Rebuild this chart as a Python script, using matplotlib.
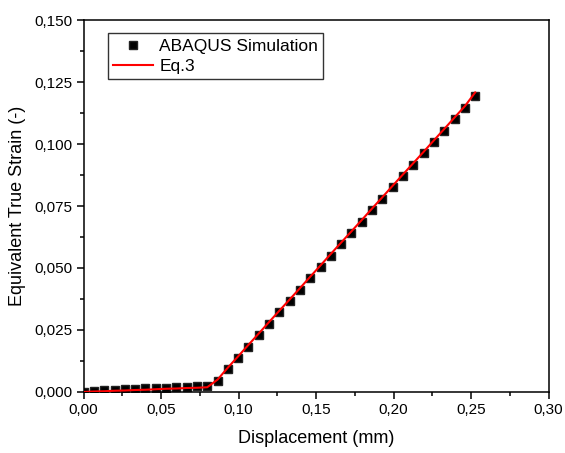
import matplotlib
matplotlib.use("Agg")
import matplotlib.pyplot as plt
from matplotlib.ticker import MultipleLocator, FuncFormatter

plt.rcParams['font.family'] = ['Liberation Sans', 'DejaVu Sans']

# displacement (mm) of each simulation increment
disp = [0.0000, 0.0067, 0.0133, 0.0200, 0.0266, 0.0333, 0.0399, 0.0466,
        0.0532, 0.0599, 0.0665, 0.0732, 0.0798, 0.0865, 0.0931, 0.0998,
        0.1064, 0.1131, 0.1197, 0.1264, 0.1330, 0.1397, 0.1463, 0.1530,
        0.1596, 0.1663, 0.1729, 0.1796, 0.1862, 0.1929, 0.1995, 0.2062,
        0.2128, 0.2195, 0.2261, 0.2328, 0.2394, 0.2461, 0.2527]

# equivalent true strain from ABAQUS
strain_sim = [0.0000, 0.0004, 0.0007, 0.0009, 0.0011, 0.0013, 0.0015, 0.0017,
              0.0018, 0.0020, 0.0022, 0.0023, 0.0025, 0.0046, 0.0091, 0.0137,
              0.0183, 0.0229, 0.0275, 0.0321, 0.0366, 0.0412, 0.0458, 0.0504,
              0.0550, 0.0596, 0.0641, 0.0687, 0.0733, 0.0779, 0.0825, 0.0871,
              0.0916, 0.0962, 0.1008, 0.1054, 0.1100, 0.1146, 0.1192]

# equivalent true strain from Eq.3
strain_eq = [0.0000, 0.0002, 0.0003, 0.0005, 0.0006, 0.0008, 0.0009, 0.0011,
             0.0013, 0.0014, 0.0016, 0.0017, 0.0019, 0.0050, 0.0098, 0.0144,
             0.0190, 0.0236, 0.0282, 0.0328, 0.0373, 0.0419, 0.0465, 0.0511,
             0.0557, 0.0603, 0.0648, 0.0694, 0.0740, 0.0786, 0.0832, 0.0878,
             0.0923, 0.0969, 0.1015, 0.1061, 0.1107, 0.1153, 0.1208]

fig = plt.figure(figsize=(5.65, 4.53), dpi=100)
ax = fig.add_axes([0.1478, 0.1347, 0.8230, 0.8211])

ax.plot(disp, strain_sim, linestyle='none', marker='s', ms=6, color='black',
        mec='#222222', label='ABAQUS Simulation', zorder=2)
ax.plot(disp, strain_eq, color='red', lw=1.5, label='Eq.3', zorder=3)

ax.set_xlim(0, 0.30)
ax.set_ylim(0, 0.150)
ax.xaxis.set_major_locator(MultipleLocator(0.05))
ax.xaxis.set_minor_locator(MultipleLocator(0.025))
ax.yaxis.set_major_locator(MultipleLocator(0.025))
ax.yaxis.set_minor_locator(MultipleLocator(0.0125))
ax.xaxis.set_major_formatter(FuncFormatter(lambda v, p: f"{v:.2f}".replace('.', ',')))
ax.yaxis.set_major_formatter(FuncFormatter(lambda v, p: f"{v:.3f}".replace('.', ',')))

ax.tick_params(which='major', direction='out', length=5, width=1.1, labelsize=11,
               top=False, right=False, pad=3)
ax.tick_params(which='minor', direction='out', length=3, width=1.1,
               top=False, right=False)
for s in ax.spines.values():
    s.set_linewidth(1.1)

ax.set_xlabel('Displacement (mm)', fontsize=13, labelpad=9)
ax.set_ylabel('Equivalent True Strain (-)', fontsize=13, labelpad=6)

leg = ax.legend(loc='upper left', bbox_to_anchor=(0.053, 0.964), borderaxespad=0,
                fontsize=12.5, frameon=True, fancybox=False, edgecolor='black',
                borderpad=0.3, handlelength=2.3, handletextpad=0.35,
                labelspacing=0.3, numpoints=1)
leg.get_frame().set_linewidth(1.0)

fig.savefig('out.png', dpi=100)
